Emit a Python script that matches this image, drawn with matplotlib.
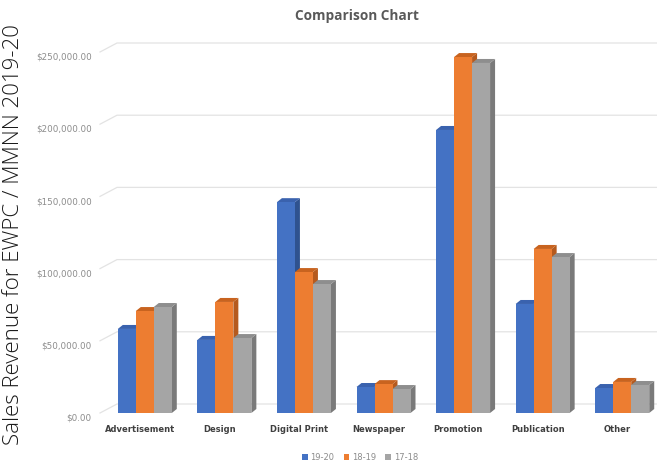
import matplotlib
matplotlib.use("Agg")
import matplotlib.pyplot as plt
from matplotlib.patches import Polygon, Patch
from matplotlib.transforms import ScaledTranslation
import numpy as np

categories = ["Advertisement", "Design", "Digital Print", "Newspaper",
              "Promotion", "Publication", "Other"]
series_names = ["19-20", "18-19", "17-18"]
rev_1920 = [58200, 50600, 146000, 18000, 196000, 75500, 17300]
rev_1819 = [70600, 76900, 97600, 20000, 246500, 113600, 21500]
rev_1718 = [73400, 51900, 89300, 16600, 242400, 108000, 19400]
yticks = [0, 50000, 100000, 150000, 200000, 250000]

FACE = ["#4472C4", "#ED7D31", "#A5A5A5"]
SIDE = ["#2F528F", "#B55A1E", "#7A7A7A"]
TOP = ["#3A62AE", "#C8631F", "#8E8E8E"]

W, H, DPI = 657, 466, 100
fig = plt.figure(figsize=(W / DPI, H / DPI), dpi=DPI)
fig.patch.set_facecolor("white")

# axes placed in pixels: left 100, right 657, floor at 413, 250k at 52
x0, x1, y0, y1 = 100, 657, 413, 52
ax = fig.add_axes([x0 / W, (H - y0) / H, (x1 - x0) / W, (y0 - y1) / H])
ax.set_xlim(-0.5, 6.5)
ax.set_ylim(0, 250000)
for s in ax.spines.values():
    s.set_visible(False)

px_x = 1 / ((x1 - x0) / 7)            # data units per pixel, x
px_y = 250000 / (y0 - y1)              # data units per pixel, y

# back-wall gridlines with a slanted floor edge on the left
back_dx, back_dy = 17 * px_x, 9 * px_y
for v in yticks:
    ax.plot([-0.5, -0.5 + back_dx, 6.5], [v, v + back_dy, v + back_dy],
            color="#E3E3E3", lw=0.9, clip_on=False, zorder=0)

# 3-D looking columns
bw = 18 * px_x
shift = 5 * px_x
ddx, ddy = 5 * px_x, 4 * px_y
x = np.arange(len(categories))
for k, vals in enumerate([rev_1920, rev_1819, rev_1718]):
    xs = x + shift + (k - 1) * bw
    for xc, v in zip(xs, vals):
        l, r = xc - bw / 2, xc + bw / 2
        side = Polygon([(r, 0), (r + ddx, ddy), (r + ddx, v + ddy), (r, v)],
                       closed=True, facecolor=SIDE[k], edgecolor="none", zorder=2 + k)
        top = Polygon([(l, v), (l + ddx, v + ddy), (r + ddx, v + ddy), (r, v)],
                      closed=True, facecolor=TOP[k], edgecolor="none", zorder=2 + k)
        ax.add_patch(side)
        ax.add_patch(top)
    ax.bar(xs, vals, width=bw, color=FACE[k], zorder=2 + k, linewidth=0)

ax.set_yticks(yticks)
ax.set_yticklabels([f"${v:,.2f}" for v in yticks], fontsize=6.3, color="#8C8C8C")
ax.set_xticks(x)
ax.set_xticklabels(categories, fontsize=6, fontweight="bold", color="#404040")
ax.tick_params(axis="y", length=0, pad=6)
ax.tick_params(axis="x", length=0, pad=9)
for lab in ax.get_yticklabels():
    lab.set_transform(lab.get_transform() + ScaledTranslation(0, -3 / 72, fig.dpi_scale_trans))

fig.text(357 / W, 1 - 16 / H, "Comparison Chart", ha="center", va="center",
         fontsize=9.8, fontweight="bold", color="#595959", family="Open Sans")

fig.text(14 / W, 1 - 235 / H, "Sales Revenue for EWPC / MMNN 2019-20",
         rotation=90, ha="center", va="center", fontsize=16,
         family="Open Sans", fontweight="light", color="#1A1A1A")

handles = [Patch(facecolor=c, edgecolor="none") for c in FACE]
fig.legend(handles, series_names, loc="center", bbox_to_anchor=(360 / W, 1 - 457 / H),
           ncol=3, frameon=False, fontsize=6, handlelength=0.7, handleheight=0.7,
           handletextpad=0.3, columnspacing=1.1, labelcolor="#8C8C8C")

fig.savefig("out.png", dpi=DPI, facecolor="white")
